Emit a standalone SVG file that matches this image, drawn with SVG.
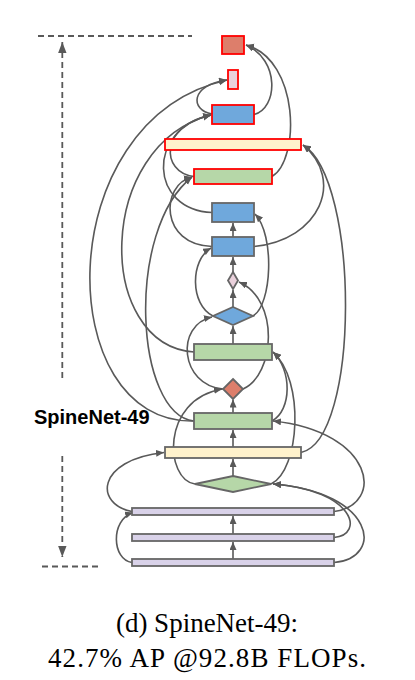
<svg xmlns="http://www.w3.org/2000/svg" width="415" height="680" viewBox="0 0 415 680">
<style>
.n{stroke:#666;stroke-width:1.8}
.o{stroke:#ff0000;stroke-width:1.8}
.l2{fill:#d9d2e9}.l3{fill:#fff2cc}.l4{fill:#b6d7a8}.l5{fill:#6fa8dc}.l6{fill:#dd7e6b}.l7{fill:#ead1dc}
.c{fill:none;stroke:#595959;stroke-width:1.6;marker-end:url(#ah)}
.d{fill:none;stroke:#595959;stroke-width:1.8;stroke-dasharray:6,4}
.lbl{font-family:"Liberation Sans",Arial,sans-serif;font-weight:bold;font-size:20px;fill:#000}
.cap{font-family:"Liberation Serif","Times New Roman",serif;font-size:27px;fill:#000;text-anchor:middle}
</style>
<defs>
<marker id="ah" markerUnits="userSpaceOnUse" markerWidth="9" markerHeight="8" refX="8" refY="3.5" orient="auto">
<path d="M0,0 L8,3.5 L0,7 z" fill="#595959"/>
</marker>
<marker id="dah" markerUnits="userSpaceOnUse" markerWidth="12" markerHeight="9" refX="11" refY="4.2" orient="auto">
<path d="M0,0 L11,4.2 L0,8.4 z" fill="#595959"/>
</marker>
</defs>
<g id="scale">
<line class="d" x1="38" y1="36" x2="192" y2="36"/>
<line class="d" x1="42" y1="566.5" x2="102" y2="566.5"/>
<line class="d" x1="62.3" y1="378" x2="62.3" y2="42" marker-end="url(#dah)"/>
<line class="d" x1="62.3" y1="456" x2="62.3" y2="557" marker-end="url(#dah)"/>
<text class="lbl" x="34" y="423.5">SpineNet-49</text>
</g>
<g id="connectors">
<line class="c" x1="233" y1="559" x2="233" y2="542"/>
<line class="c" x1="233" y1="534" x2="233" y2="516"/>
<line class="c" x1="233" y1="476" x2="233" y2="459"/>
<line class="c" x1="233" y1="447" x2="233" y2="430"/>
<line class="c" x1="233" y1="413" x2="233" y2="399.5"/>
<line class="c" x1="233" y1="344" x2="233" y2="326"/>
<line class="c" x1="233" y1="307" x2="233" y2="290"/>
<line class="c" x1="233" y1="272" x2="233" y2="257"/>
<line class="c" x1="233" y1="237" x2="233" y2="223"/>
<path class="c" d="M132,562.5 C112,560 110,520 133,512.5"/>
<path class="c" d="M132,511.5 C95,505 95,460 164,452.5"/>
<path class="c" d="M334,562.5 C385,558 375,492 273,484"/>
<path class="c" d="M334,537.5 C365,535 355,490 273,484"/>
<path class="c" d="M334,511.5 C385,505 375,432 273,421"/>
<path class="c" d="M301,452.5 C360,440 360,180 303,145"/>
<path class="c" d="M254,246.5 C320,240 345,180 303,145"/>
<path class="c" d="M195,484 C165,480 160,400 222,389"/>
<path class="c" d="M271,484 C300,470 305,380 273,352"/>
<path class="c" d="M272,421 C292,410 292,370 273,352"/>
<path class="c" d="M194,421 C135,415 125,230 192,177"/>
<path class="c" d="M194,421 C52,425 48,120 227,80"/>
<path class="c" d="M223,389 C180,385 175,325 212,317"/>
<path class="c" d="M243,389 C275,375 280,300 239,282"/>
<path class="c" d="M213,316 C190,305 190,260 211,248"/>
<path class="c" d="M253,316 C272,305 275,235 255,214"/>
<path class="c" d="M212,246.5 C160,245 160,185 192,177"/>
<path class="c" d="M212,212.5 C150,210 145,130 211,115"/>
<path class="c" d="M194,352 C95,345 95,145 211,115"/>
<path class="c" d="M194,176.5 C160,172 160,125 211,115"/>
<path class="c" d="M212,114 C190,110 190,85 227,80"/>
<path class="c" d="M272,176.5 C300,160 300,60 246,45"/>
<path class="c" d="M254,114.5 C278,108 280,60 246,45"/>
</g>
<g id="P3"><rect class="n l2" x="132" y="559" width="202" height="7"/></g>
<g id="P2"><rect class="n l2" x="132" y="534" width="202" height="7"/></g>
<g id="P1"><rect class="n l2" x="132" y="508" width="202" height="7"/></g>
<g id="GD"><polygon class="n l4" points="233,476 271,484 233,492 195,484"/></g>
<g id="Y13"><rect class="n l3" x="165" y="447" width="136" height="11"/></g>
<g id="G12"><rect class="n l4" x="194" y="413" width="78" height="16"/></g>
<g id="RD"><polygon class="n l6" points="233,379 243,389 233,399 223,389"/></g>
<g id="G10"><rect class="n l4" x="194" y="344" width="78" height="16"/></g>
<g id="BD"><polygon class="n l5" points="233,307 253,316 233,325 213,316"/></g>
<g id="PD"><polygon class="n l7" points="233,272 238,280.5 233,289 228,280.5"/></g>
<g id="B7"><rect class="n l5" x="212" y="237" width="42" height="19"/></g>
<g id="B6"><rect class="n l5" x="212" y="203" width="42" height="19"/></g>
<g id="G5"><rect class="o l4" x="194" y="169" width="78" height="15"/></g>
<g id="Y4"><rect class="o l3" x="165" y="139" width="136" height="11"/></g>
<g id="B3"><rect class="o l5" x="212" y="105" width="42" height="19"/></g>
<g id="PR2"><rect class="o l7" x="228" y="70" width="10" height="19"/></g>
<g id="RS"><rect class="o l6" x="222" y="36" width="22" height="18"/></g>
<g id="caption">
<text class="cap" x="207" y="632">(d) SpineNet-49:</text>
<text class="cap" x="207" y="667" textLength="318" lengthAdjust="spacing">42.7% AP @92.8B FLOPs.</text>
</g>
</svg>
